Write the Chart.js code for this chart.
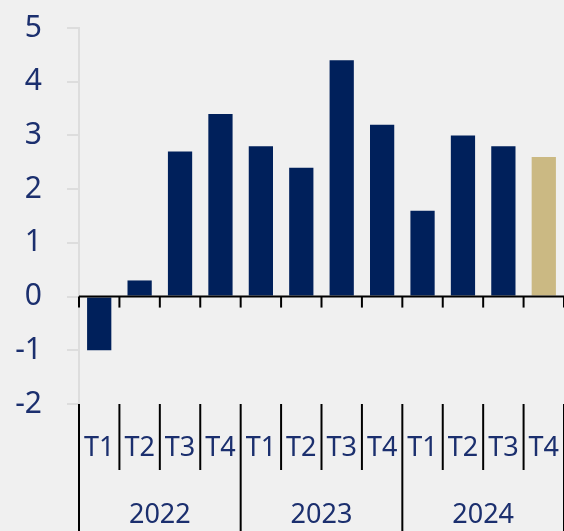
<!DOCTYPE html>
<html>
<head>
<meta charset="utf-8">
<script src="https://cdn.jsdelivr.net/npm/chart.js@4"></script>
<style>
  html, body { margin: 0; padding: 0; background: #f0f0f0; }
  #wrap { width: 564px; height: 531px; }
</style>
</head>
<body>
<div id="wrap"><canvas id="myChart" width="564" height="531"></canvas></div>
<script>
// data
var quarters = ['T1', 'T2', 'T3', 'T4', 'T1', 'T2', 'T3', 'T4', 'T1', 'T2', 'T3', 'T4'];
var years = ['2022', '2023', '2024'];
var values = [-1.0, 0.3, 2.7, 3.4, 2.8, 2.4, 4.4, 3.2, 1.6, 3.0, 2.8, 2.6];
var yTicks = [-2, -1, 0, 1, 2, 3, 4, 5];

var navy = '#00205b';
var tan = '#cbb983';
var textColor = '#1b2f6e';

var barColors = values.map(function (v, i) {
    return i == values.length - 1 ? tan : navy;
});

// draws zero line, category separators and the two label rows
var axisPlugin = {
    id: 'axisPlugin',
    afterDatasetsDraw: function (chart) {
        var ctx = chart.ctx;
        var x = chart.scales.x;
        var y = chart.scales.y;
        var area = chart.chartArea;
        var n = quarters.length;
        var step = (area.right - area.left) / n;
        var y0 = y.getPixelForValue(0);

        ctx.save();
        ctx.strokeStyle = '#000';
        ctx.lineWidth = 2;
        // zero line
        ctx.beginPath();
        ctx.moveTo(area.left, y0);
        ctx.lineTo(area.right, y0);
        ctx.stroke();
        // little ticks under zero line
        for (var i = 0; i <= n; i++) {
            var bx = x.getPixelForValue(i) - step / 2;
            ctx.beginPath();
            ctx.moveTo(bx, y0);
            ctx.lineTo(bx, y0 + 11);
            ctx.stroke();
        }
        // separators below the plot
        for (var i = 0; i <= n; i++) {
            var bx = x.getPixelForValue(i) - step / 2;
            var bottom = (i % 4 == 0) ? chart.height : area.bottom + 66;
            ctx.beginPath();
            ctx.moveTo(bx, area.bottom);
            ctx.lineTo(bx, bottom);
            ctx.stroke();
        }
        // labels
        ctx.fillStyle = textColor;
        ctx.textAlign = 'center';
        ctx.textBaseline = 'middle';
        ctx.font = '27px "Noto Sans"';
        for (var i = 0; i < n; i++) {
            ctx.fillText(quarters[i], x.getPixelForValue(i), area.bottom + 44);
        }
        for (var j = 0; j < years.length; j++) {
            var cx = (x.getPixelForValue(j * 4) + x.getPixelForValue(j * 4 + 3)) / 2;
            ctx.fillText(years[j], cx, area.bottom + 111);
        }
        ctx.restore();
    }
};

const data = {
    labels: quarters,
    datasets: [
        {
            data: values,
            backgroundColor: barColors,
            borderWidth: 0,
            barPercentage: 0.6,
            categoryPercentage: 1.0
        }
    ]
};

const config = {
    type: 'bar',
    data: data,
    plugins: [axisPlugin],
    options: {
        responsive: false,
        animation: false,
        layout: {
            padding: { top: 28, right: -2, bottom: 0, left: 0 }
        },
        plugins: {
            legend: { display: false },
            tooltip: { enabled: false }
        },
        scales: {
            x: {
                ticks: { display: false },
                grid: { display: false },
                border: { display: false },
                afterFit: function (scale) {
                    scale.height = 127;
                }
            },
            y: {
                min: -2,
                max: 5,
                afterBuildTicks: function (scale) {
                    scale.ticks = yTicks.map(function (v) { return { value: v }; });
                },
                ticks: {
                    color: textColor,
                    font: { family: 'Noto Sans', size: 30 },
                    padding: 25
                },
                grid: {
                    drawOnChartArea: false,
                    tickLength: 12,
                    color: '#dddddd',
                    lineWidth: 2
                },
                border: { color: '#dddddd', width: 2 },
                afterFit: function (scale) {
                    scale.width = 79;
                    scale.paddingTop = 0;
                    scale.paddingBottom = 0;
                }
            }
        }
    }
};

var myChart = new Chart(document.getElementById('myChart'), config);
</script>
</body>
</html>
